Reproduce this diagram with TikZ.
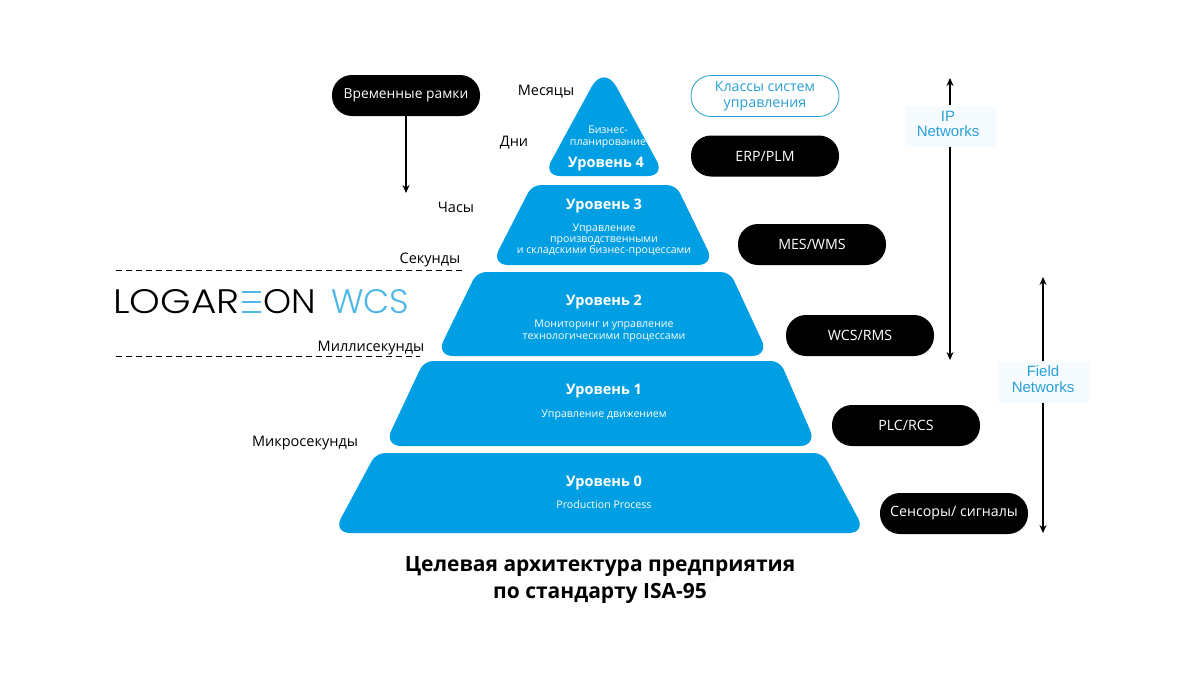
\documentclass[tikz,border=0pt]{standalone}
\usepackage{fontspec}
\setmainfont{Open Sans}
\newfontfamily\arialfont{Liberation Sans}
\newfontfamily\logofont{Poppins Light}
\usepackage{xcolor}
\usetikzlibrary{arrows.meta, positioning}
\definecolor{lvlblue}{HTML}{009FE3}
\definecolor{netblue}{HTML}{2A9FD6}
\definecolor{netfill}{HTML}{F5FBFE}
\definecolor{logoblue}{HTML}{4DB8E8}

\begin{document}
\begin{tikzpicture}[
  x=1pt, y=-1pt,
  lvl/.style={fill=lvlblue, rounded corners=17pt},
  pill/.style={fill=black, text=white, rounded corners=20pt, minimum width=148pt,
               minimum height=41pt, align=center, inner sep=0pt,
               font=\fontsize{14.2}{15.5}\selectfont},
  outlinepill/.style={pill, fill=white, draw=netblue, thick, text=netblue},
  timelabel/.style={font=\fontsize{14.5}{17}\selectfont},
  lvlname/.style={text=white, font=\fontsize{14.5}{17}\selectfont\bfseries},
  lvltext/.style={text=white, align=center, font=\fontsize{10.6}{11.2}\selectfont},
  netbox/.style={fill=netfill, minimum width=91pt, minimum height=41pt, inner sep=0pt},
  netlabel/.style={text=netblue, align=center, inner sep=0pt,
                   font=\arialfont\fontsize{15}{15.5}\selectfont},
  logotext/.style={anchor=west, inner sep=0pt, font=\logofont\fontsize{34}{34}\selectfont},
  arr/.style={-{Stealth[length=8pt,width=7pt]}, line width=1.1pt},
  dashline/.style={dash pattern=on 6pt off 4pt, line width=0.9pt}
]
  \useasboundingbox (0,0) rectangle (1200,675);

  % pyramid
  \fill[lvl] (604,176) -- (543,176) [rounded corners=26pt] -- (604,64) [rounded corners=17pt] -- (665,176) -- cycle;
  \fill[lvl] (604,265) -- (491,265) [rounded corners=9pt] -- (532,185) -- (676,185) [rounded corners=17pt] -- (715,265) -- cycle;
  \fill[lvl] (604,356) -- (436,356) [rounded corners=9pt] -- (477,272) -- (730,272) [rounded corners=17pt] -- (769,356) -- cycle;
  \fill[lvl] (604,446) -- (384,446) [rounded corners=9pt] -- (424,361) -- (780,361) [rounded corners=17pt] -- (817,446) -- cycle;
  \fill[lvl] (604,533) -- (333,533) [rounded corners=9pt] -- (376,453) -- (823,453) [rounded corners=17pt] -- (866,533) -- cycle;

  \node[lvltext] (txt4) at (608,137) {Бизнес-\\планирование};
  \node[lvlname] (lvl4) at (606,164) {Уровень 4};
  \node[lvlname] (lvl3) at (604,205.5) {Уровень 3};
  \node[lvltext] (txt3) at (604,240) {Управление\\производственными\\и складскими бизнес-процессами};
  \node[lvlname] (lvl2) at (604,302) {Уровень 2};
  \node[lvltext] (txt2) at (604,331) {Мониторинг и управление\\технологическими процессами};
  \node[lvlname] (lvl1) at (604,391) {Уровень 1};
  \node[lvltext] (txt1) at (604,415) {Управление движением};
  \node[lvlname] (lvl0) at (604,483) {Уровень 0};
  \node[lvltext] (txt0) at (604,505) {Production Process};

  % time scale
  \node[pill, font=\fontsize{13.8}{15.5}\selectfont] (frames) at (406,95.5) {Временные рамки};
  \coordinate (framesend) at (406,193);
  \draw[arr] (frames) -- (framesend);
  \node[timelabel] (months) at (546,92) {Месяцы};
  \node[timelabel] (days) at (514,143) {Дни};
  \node[timelabel] (hours) at (456,207) {Часы};
  \node[timelabel] (secs) at (430,260) {Секунды};
  \node[timelabel] (msecs) at (371,348) {Миллисекунды};
  \node[timelabel] (usecs) at (305,443) {Микросекунды};

  \coordinate (dashAl) at (116,270);
  \coordinate (dashAr) at (462,270);
  \coordinate (dashBl) at (116,356);
  \coordinate (dashBr) at (420,356);
  \draw[dashline] (dashAl) -- (dashAr);
  \draw[dashline] (dashBl) -- (dashBr);

  % logo
  \node[logotext, xscale=1.15] (logoa) at (113,302) {LOGAR};
  \node[logotext, xscale=1.05] (logob) at (263,302) {ON};
  \draw[logoblue, line width=1.8pt] (242,292) -- (261,292) (242,302) -- (261,302) (242,312) -- (261,312);
  \node[logotext, text=logoblue] (logoc) at (331,302) {WCS};

  % control system classes
  \node[outlinepill] (classes) at (765,96) {Классы систем\\управления};
  \node[pill] (erp) at (765,156) {ERP/PLM};
  \node[pill] (mes) at (812,244.5) {MES/WMS};
  \node[pill] (wcs) at (860,335.5) {WCS/RMS};
  \node[pill] (plc) at (906,425.5) {PLC/RCS};
  \node[pill] (sens) at (954,513.5) {Сенсоры/ сигналы};

  % networks
  \node[netbox] (ip) at (950,126) {};
  \node[netlabel] (iplabel) at (948,124) {IP\\Networks};
  \coordinate (iptop) at (950,78);
  \coordinate (ipbot) at (950,360);
  \draw[arr] (ip) -- (iptop);
  \draw[arr] (ip) -- (ipbot);
  \node[netbox] (field) at (1043,382) {};
  \node[netlabel] (fieldlabel) at (1043,379) {Field\\Networks};
  \coordinate (fieldtop) at (1043,277);
  \coordinate (fieldbot) at (1043,533);
  \draw[arr] (field) -- (fieldtop);
  \draw[arr] (field) -- (fieldbot);

  % caption
  \node[align=center, font=\fontsize{21}{27}\selectfont\bfseries] (title) at (600,580)
    {Целевая архитектура предприятия\\по стандарту ISA-95};
\end{tikzpicture}
\end{document}
